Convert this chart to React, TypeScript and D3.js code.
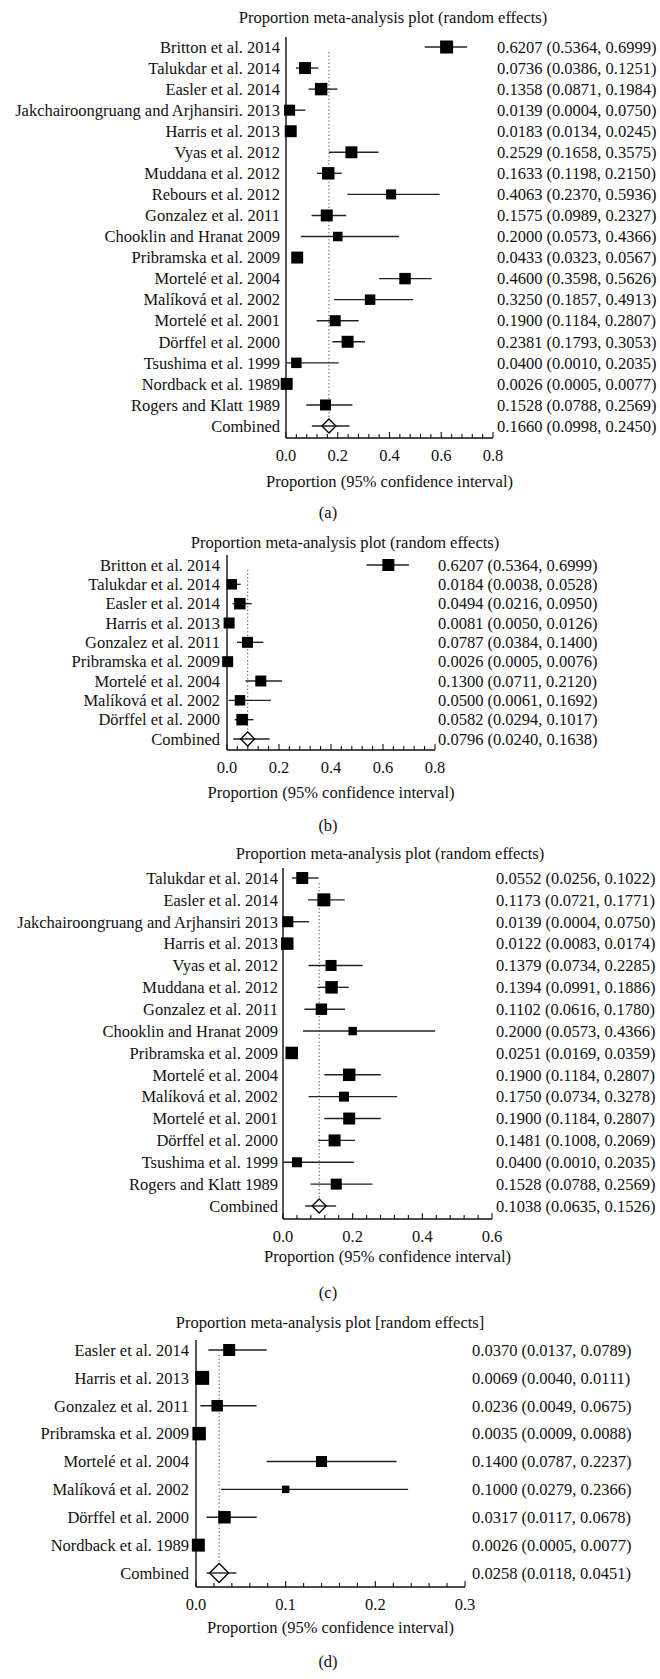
import React from "react";
import * as d3 from "d3";

// panel (a)
const studiesA = [
  "Britton et al. 2014", "Talukdar et al. 2014", "Easler et al. 2014",
  "Jakchairoongruang and Arjhansiri. 2013", "Harris et al. 2013", "Vyas et al. 2012",
  "Muddana et al. 2012", "Rebours et al. 2012", "Gonzalez et al. 2011",
  "Chooklin and Hranat 2009", "Pribramska et al. 2009", "Mortelé et al. 2004",
  "Malíková et al. 2002", "Mortelé et al. 2001", "Dörffel et al. 2000",
  "Tsushima et al. 1999", "Nordback et al. 1989", "Rogers and Klatt 1989",
];
const propA = [0.6207, 0.0736, 0.1358, 0.0139, 0.0183, 0.2529, 0.1633, 0.4063, 0.1575, 0.2, 0.0433, 0.46, 0.325, 0.19, 0.2381, 0.04, 0.0026, 0.1528];
const lowA = [0.5364, 0.0386, 0.0871, 0.0004, 0.0134, 0.1658, 0.1198, 0.237, 0.0989, 0.0573, 0.0323, 0.3598, 0.1857, 0.1184, 0.1793, 0.001, 0.0005, 0.0788];
const highA = [0.6999, 0.1251, 0.1984, 0.075, 0.0245, 0.3575, 0.215, 0.5936, 0.2327, 0.4366, 0.0567, 0.5626, 0.4913, 0.2807, 0.3053, 0.2035, 0.0077, 0.2569];
const weightA = [7.1, 6.0, 6.5, 5.1, 6.0, 6.0, 6.5, 4.2, 6.0, 3.8, 6.0, 5.5, 4.6, 5.1, 6.0, 4.6, 6.0, 5.1];
const combinedA = [0.166, 0.0998, 0.245];

// panel (b)
const studiesB = [
  "Britton et al. 2014", "Talukdar et al. 2014", "Easler et al. 2014", "Harris et al. 2013",
  "Gonzalez et al. 2011", "Pribramska et al. 2009", "Mortelé et al. 2004",
  "Malíková et al. 2002", "Dörffel et al. 2000",
];
const propB = [0.6207, 0.0184, 0.0494, 0.0081, 0.0787, 0.0026, 0.13, 0.05, 0.0582];
const lowB = [0.5364, 0.0038, 0.0216, 0.005, 0.0384, 0.0005, 0.0711, 0.0061, 0.0294];
const highB = [0.6999, 0.0528, 0.095, 0.0126, 0.14, 0.0076, 0.212, 0.1692, 0.1017];
const weightB = [13.0, 9.9, 11.9, 10.9, 10.9, 10.9, 10.9, 9.9, 11.9];
const combinedB = [0.0796, 0.024, 0.1638];

// panel (c)
const studiesC = [
  "Talukdar et al. 2014", "Easler et al. 2014", "Jakchairoongruang and Arjhansiri 2013",
  "Harris et al. 2013", "Vyas et al. 2012", "Muddana et al. 2012", "Gonzalez et al. 2011",
  "Chooklin and Hranat 2009", "Pribramska et al. 2009", "Mortelé et al. 2004",
  "Malíková et al. 2002", "Mortelé et al. 2001", "Dörffel et al. 2000",
  "Tsushima et al. 1999", "Rogers and Klatt 1989",
];
const propC = [0.0552, 0.1173, 0.0139, 0.0122, 0.1379, 0.1394, 0.1102, 0.2, 0.0251, 0.19, 0.175, 0.19, 0.1481, 0.04, 0.1528];
const lowC = [0.0256, 0.0721, 0.0004, 0.0083, 0.0734, 0.0991, 0.0616, 0.0573, 0.0169, 0.1184, 0.0734, 0.1184, 0.1008, 0.001, 0.0788];
const highC = [0.1022, 0.1771, 0.075, 0.0174, 0.2285, 0.1886, 0.178, 0.4366, 0.0359, 0.2807, 0.3278, 0.2807, 0.2069, 0.2035, 0.2569];
const weightC = [7.2, 8.5, 6.1, 7.8, 6.1, 7.8, 6.6, 3.6, 7.8, 7.8, 5.0, 7.2, 7.2, 5.0, 6.1];
const combinedC = [0.1038, 0.0635, 0.1526];

// panel (d)
const studiesD = [
  "Easler et al. 2014", "Harris et al. 2013", "Gonzalez et al. 2011", "Pribramska et al. 2009",
  "Mortelé et al. 2004", "Malíková et al. 2002", "Dörffel et al. 2000", "Nordback et al. 1989",
];
const propD = [0.037, 0.0069, 0.0236, 0.0035, 0.14, 0.1, 0.0317, 0.0026];
const lowD = [0.0137, 0.004, 0.0049, 0.0009, 0.0787, 0.0279, 0.0117, 0.0005];
const highD = [0.0789, 0.0111, 0.0675, 0.0088, 0.2237, 0.2366, 0.0678, 0.0077];
const weightD = [12.5, 17.0, 11.4, 15.7, 10.5, 4.8, 13.5, 14.6];
const combinedD = [0.0258, 0.0118, 0.0451];

const axisTicksAB = [0, 0.2, 0.4, 0.6, 0.8];
const axisTicksC = [0, 0.2, 0.4, 0.6];
const axisTicksD = [0, 0.1, 0.2, 0.3];

const font = "'Liberation Serif', 'Times New Roman', serif";
const fontSize = 16.5;
const fmt = d3.format(".4f");

function Forest({ title, studies, prop, low, high, weight, combined, ticks, minorStep, letter, lay }) {
  const xMax = ticks[ticks.length - 1];
  const x = d3.scaleLinear().domain([0, xMax]).range([lay.x0, lay.x1]);
  const rows = [...studies, "Combined"];
  const y = d3.scalePoint().domain(rows.map((r, i) => String(i))).range([lay.firstRow, lay.lastRow]);
  const size = d3.scaleSqrt().domain([0, d3.max(weight)]).range([0, lay.maxBox]);
  const minor = d3.range(0, xMax + minorStep / 2, minorStep);
  const cy = y(String(studies.length));
  const dh = lay.diamond;
  const rowText = (i, p, lo, hi) => `${fmt(p)} (${fmt(lo)}, ${fmt(hi)})`;

  return (
    <g fontFamily={font} fontSize={fontSize} fill="#111">
      <text x={lay.titleX} y={lay.titleY} dy="0.35em" textAnchor="middle">{title}</text>
      {/* axes */}
      <line x1={lay.x0} x2={lay.x0} y1={lay.firstRow - 10} y2={lay.axisY} stroke="#111" strokeWidth={1.4} />
      <line x1={lay.x0} x2={lay.x1} y1={lay.axisY} y2={lay.axisY} stroke="#111" strokeWidth={1.4} />
      {minor.map((t, i) => (
        <line key={`m${i}`} x1={x(t)} x2={x(t)} y1={lay.axisY} y2={lay.axisY - (i % 5 === 0 ? 6 : 4)} stroke="#111" strokeWidth={1.1} />
      ))}
      {ticks.map((t) => (
        <text key={`t${t}`} x={x(t)} y={lay.axisY + 17} dy="0.35em" textAnchor="middle">{d3.format(".1f")(t)}</text>
      ))}
      <text x={(lay.x0 + lay.x1) / 2} y={lay.xTitleY} dy="0.35em" textAnchor="middle">Proportion (95% confidence interval)</text>
      <text x={328} y={lay.letterY} dy="0.35em" textAnchor="middle">{letter}</text>
      {/* pooled estimate reference */}
      <line x1={x(combined[0])} x2={x(combined[0])} y1={lay.firstRow + 5} y2={cy - dh} stroke="#444" strokeWidth={1} strokeDasharray="1.2 2.4" />
      {studies.map((s, i) => {
        const yy = y(String(i));
        const b = size(weight[i]);
        return (
          <g key={`s${i}`}>
            <text x={lay.labelX} y={yy} dy="0.35em" textAnchor="end">{s}</text>
            <line x1={x(low[i])} x2={x(high[i])} y1={yy} y2={yy} stroke="#222" strokeWidth={1.4} />
            <rect x={x(prop[i]) - b / 2} y={yy - b / 2} width={b} height={b} fill="#000" />
            <text x={lay.valueX} y={yy} dy="0.35em">{rowText(i, prop[i], low[i], high[i])}</text>
          </g>
        );
      })}
      <text x={lay.labelX} y={cy} dy="0.35em" textAnchor="end">Combined</text>
      <line x1={x(combined[1])} x2={x(combined[2])} y1={cy} y2={cy} stroke="#222" strokeWidth={1.4} />
      <path
        d={`M${x(combined[0]) - dh},${cy}L${x(combined[0])},${cy - dh}L${x(combined[0]) + dh},${cy}L${x(combined[0])},${cy + dh}Z`}
        fill="none" stroke="#000" strokeWidth={1.3}
      />
      <text x={lay.valueX} y={cy} dy="0.35em">{rowText(0, combined[0], combined[1], combined[2])}</text>
    </g>
  );
}

export default function App() {
  return (
    <svg width={660} height={1679} style={{ position: "absolute", left: 0, top: 0, background: "#fff" }}>
      <rect width={660} height={1679} fill="#fff" />
      <Forest
        title="Proportion meta-analysis plot (random effects)"
        studies={studiesA} prop={propA} low={lowA} high={highA} weight={weightA} combined={combinedA}
        ticks={axisTicksAB} minorStep={0.04} letter="(a)"
        lay={{ x0: 286, x1: 493, titleX: 393, titleY: 17, firstRow: 47, lastRow: 426, axisY: 438, xTitleY: 481, letterY: 512, labelX: 280, valueX: 497, maxBox: 13, diamond: 7 }}
      />
      <Forest
        title="Proportion meta-analysis plot (random effects)"
        studies={studiesB} prop={propB} low={lowB} high={highB} weight={weightB} combined={combinedB}
        ticks={axisTicksAB} minorStep={0.04} letter="(b)"
        lay={{ x0: 227, x1: 435, titleX: 345, titleY: 542, firstRow: 565, lastRow: 739, axisY: 750, xTitleY: 792, letterY: 825, labelX: 220, valueX: 438, maxBox: 12, diamond: 7 }}
      />
      <Forest
        title="Proportion meta-analysis plot (random effects)"
        studies={studiesC} prop={propC} low={lowC} high={highC} weight={weightC} combined={combinedC}
        ticks={axisTicksC} minorStep={0.04} letter="(c)"
        lay={{ x0: 283, x1: 492, titleX: 390, titleY: 853, firstRow: 878, lastRow: 1206, axisY: 1219, xTitleY: 1256, letterY: 1292, labelX: 278, valueX: 496, maxBox: 13, diamond: 7 }}
      />
      <Forest
        title="Proportion meta-analysis plot [random effects]"
        studies={studiesD} prop={propD} low={lowD} high={highD} weight={weightD} combined={combinedD}
        ticks={axisTicksD} minorStep={0.02} letter="(d)"
        lay={{ x0: 196, x1: 465, titleX: 330, titleY: 1322, firstRow: 1350, lastRow: 1573, axisY: 1587, xTitleY: 1627, letterY: 1661, labelX: 189, valueX: 472, maxBox: 14, diamond: 9.5 }}
      />
    </svg>
  );
}
